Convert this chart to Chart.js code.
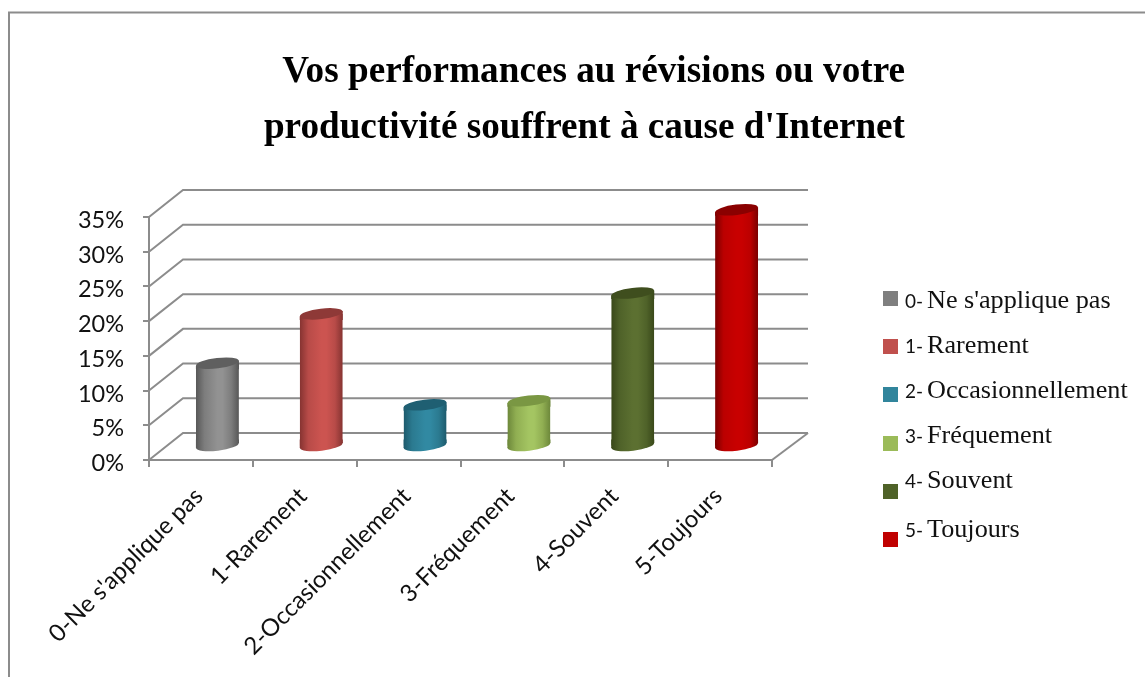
<!DOCTYPE html>
<html><head><meta charset="utf-8">
<style>html,body{margin:0;padding:0;background:#fff}#w{position:relative;width:1145px;height:677px}canvas{display:block}</style>
<script src="https://cdn.jsdelivr.net/npm/chart.js@4"></script>
</head><body><div id="w"><canvas id="c" width="1145" height="677"></canvas></div>
<script>
const titleLines = ["Vos performances au révisions ou votre", "productivité souffrent à cause d'Internet"];
const categories = ["0-Ne s'applique pas", "1-Rarement", "2-Occasionnellement", "3-Fréquement", "4-Souvent", "5-Toujours"];
const values = [12, 19.1, 6, 6.6, 22.1, 34.1];
const legendPrefixes = ["0-", "1-", "2-", "3-", "4-", "5-"];
const legendNames = ["Ne s'applique pas", "Rarement", "Occasionnellement", "Fréquement", "Souvent", "Toujours"];
const legendColors = ["#7f7f7f", "#c0504d", "#31859c", "#9bbb59", "#4f6228", "#c00000"];
const edgeColors = ["#575757", "#853331", "#1d5a6c", "#6c873a", "#394819", "#7a0000"];
const nearColors = ["#7d7d7d", "#b84b48", "#2b7a90", "#90ae52", "#4f6229", "#bb0000"];
const midColors = ["#929292", "#cc5450", "#3189a2", "#a4c562", "#5c7031", "#c80000"];
const capColors = ["#5f5f5f", "#8e3937", "#1f5f72", "#7a9743", "#3f4e1e", "#8a0000"];

const DEPTH_X = 35, DEPTH_Y = 27, BAR_PCT = 0.414, TILT = -0.12, CAP_RY = 5.2;
const GRID = "#8c8c8c", SERIF = "'Liberation Serif'", SANS = "Lato";

function barGradient(ctx) {
  const chart = ctx.chart, x = chart.scales.x, i = ctx.dataIndex;
  if (!x || x.width === undefined || i === undefined) return legendColors[i || 0];
  const cx = x.getPixelForValue(i), hw = x.width / categories.length * BAR_PCT / 2;
  const g = chart.ctx.createLinearGradient(cx - hw, 0, cx + hw, 0);
  g.addColorStop(0, edgeColors[i]);
  g.addColorStop(0.2, nearColors[i]);
  g.addColorStop(0.5, midColors[i]);
  g.addColorStop(0.62, midColors[i]);
  g.addColorStop(0.82, nearColors[i]);
  g.addColorStop(1, edgeColors[i]);
  return g;
}

const scene = {
  id: 'scene',
  afterLayout(chart) {
    const t = chart.titleBlock;
    t.left = 100; t.right = 905;
  },
  beforeDraw(chart) {
    const c = chart.ctx;
    c.save();
    c.strokeStyle = GRID; c.lineWidth = 2;
    c.beginPath(); c.moveTo(9, 677); c.lineTo(9, 12.5); c.lineTo(1145, 12.5); c.stroke();
    c.restore();
  },
  beforeDatasetsDraw(chart) {
    const c = chart.ctx, y = chart.scales.y, a = chart.chartArea;
    c.save();
    c.strokeStyle = GRID; c.lineWidth = 2;
    y.ticks.forEach(t => {
      const py = y.getPixelForValue(t.value);
      c.beginPath();
      c.moveTo(a.left, py);
      c.lineTo(a.left + DEPTH_X - 1, py - DEPTH_Y);
      c.lineTo(a.right + DEPTH_X + 1, py - DEPTH_Y);
      c.stroke();
    });
    const b = y.getPixelForValue(0);
    c.beginPath(); c.moveTo(a.right, b); c.lineTo(a.right + DEPTH_X + 1, b - DEPTH_Y); c.stroke();
    c.restore();
  },
  beforeDatasetDraw(chart, args) {
    const c = chart.ctx;
    c.save();
    c.translate(DEPTH_X / 2 - 1, -DEPTH_Y / 2);
    args.meta.data.forEach((el, i) => {
      const hw = el.width / 2, dy = hw * Math.sin(-TILT);
      c.fillStyle = barGradient({chart, dataIndex: i});
      c.beginPath();
      c.ellipse(el.x, el.base, hw, CAP_RY, TILT, 0, Math.PI * 2);
      c.fill();
      // joins the side walls smoothly to the tilted end caps
      c.beginPath();
      c.moveTo(el.x - hw, el.base - 6);
      c.lineTo(el.x + hw, el.base - 6);
      c.lineTo(el.x + hw, el.base - dy);
      c.lineTo(el.x - hw, el.base + dy);
      c.closePath();
      c.moveTo(el.x - hw, el.y + dy);
      c.lineTo(el.x + hw, el.y - dy);
      c.lineTo(el.x + hw, el.y + 6);
      c.lineTo(el.x - hw, el.y + 6);
      c.closePath();
      c.fill();
    });
    c.save();
    c.beginPath();
    args.meta.data.forEach(el => {
      const hw = el.width / 2, dy = hw * Math.sin(-TILT);
      c.moveTo(el.x - hw, el.y + dy);
      c.lineTo(el.x + hw, el.y - dy);
      c.lineTo(el.x + hw, el.base - dy);
      c.lineTo(el.x - hw, el.base + dy);
      c.closePath();
    });
    c.clip();
  },
  afterDatasetDraw(chart, args) {
    const c = chart.ctx;
    c.restore();
    args.meta.data.forEach((el, i) => {
      c.fillStyle = capColors[i];
      c.beginPath();
      c.ellipse(el.x, el.y, el.width / 2, CAP_RY, TILT, 0, Math.PI * 2);
      c.fill();
    });
    c.restore();
  },
  afterDraw(chart) {
    const c = chart.ctx;
    const squareTops = [291, 339, 387, 436, 484, 532];
    const baselines = [308, 353, 398, 443, 488, 537];
    c.save();
    legendNames.forEach((name, i) => {
      c.fillStyle = legendColors[i];
      c.fillRect(883, squareTops[i], 15, 15);
      c.fillStyle = "#111";
      c.textBaseline = "alphabetic"; c.textAlign = "left";
      c.font = "19px " + SANS;
      c.fillText(legendPrefixes[i], 905, baselines[i]);
      c.font = "26.2px " + SERIF;
      c.fillText(name, 927, baselines[i]);
    });
    c.restore();
  }
};

new Chart(document.getElementById('c'), {
  type: 'bar',
  data: { labels: categories, datasets: [{
    data: values,
    backgroundColor: barGradient,
    borderWidth: 0,
    barPercentage: BAR_PCT,
    categoryPercentage: 1,
    clip: false
  }]},
  plugins: [scene],
  options: {
    responsive: false,
    animation: false,
    layout: { padding: { left: 0, right: 373, top: 0, bottom: 0 } },
    plugins: {
      legend: { display: false },
      tooltip: { enabled: false },
      title: {
        display: true,
        text: titleLines,
        align: 'end',
        color: '#000',
        font: { family: SERIF, weight: 'bold', size: 37.2, lineHeight: 1.505 },
        padding: { top: 44, bottom: 61 }
      }
    },
    scales: {
      x: {
        afterFit(s) { s.height = 217; },
        grid: { drawOnChartArea: false, drawTicks: true, tickLength: 7, color: GRID, lineWidth: 2 },
        border: { color: GRID, width: 2 },
        ticks: {
          autoSkip: false, minRotation: 45, maxRotation: 45, padding: 15, labelOffset: -2,
          color: '#111', font: { family: SANS, size: 24 }
        }
      },
      y: {
        min: 0, max: 35,
        afterFit(s) { s.width = 149; },
        grid: { drawOnChartArea: false, drawTicks: true, tickLength: 6, color: GRID, lineWidth: 2 },
        border: { color: GRID, width: 2 },
        ticks: {
          stepSize: 5, padding: 19, labelOffset: 3.5,
          color: '#111', font: { family: SANS, size: 23.5 },
          callback: v => v + '%'
        }
      }
    }
  }
});
</script></body></html>
